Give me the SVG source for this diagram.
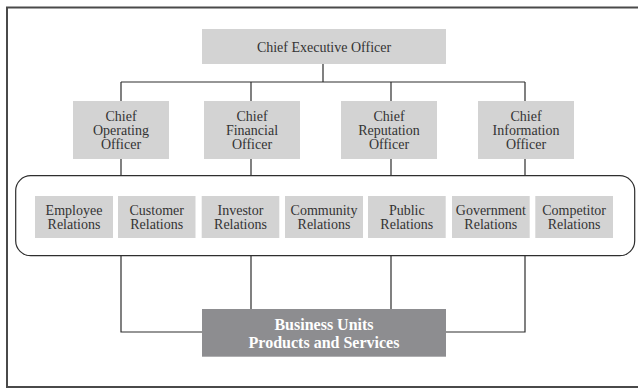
<svg xmlns="http://www.w3.org/2000/svg" width="638" height="388" viewBox="0 0 638 388">
<style>
.lt{fill:#d3d3d3}
.dk{fill:#8d8d90}
.t{font-family:"Liberation Serif","Times New Roman",serif;font-size:14px;fill:#333;text-anchor:middle}
.tb{font-family:"Liberation Serif","Times New Roman",serif;font-size:16px;font-weight:bold;fill:#fff;text-anchor:middle}
.ln{stroke:#2e2e2e;stroke-width:1.2;fill:none}
</style>
<rect x="7" y="7.5" width="640" height="379.5" fill="#fff" stroke="#4a4a4a" stroke-width="2"/>
<g id="connectors" class="ln">
<path d="M323 64V82M121 82H525M121 82V101M251 82V101M391 82V101M525 82V101"/>
<path d="M121 159V176M251 159V176M391 159V176M525 159V176"/>
<path d="M121 256V332H202M251 256V309M391 256V309M525 256V332H446"/>
</g>
<g id="group">
<rect x="15.7" y="175.7" width="619" height="80" rx="15" ry="15" fill="none" stroke="#2e2e2e" stroke-width="1.2"/>
</g>
<g id="ceo"><rect class="lt" x="202" y="29" width="244" height="35"/><text class="t" x="324" y="52">Chief Executive Officer</text></g>
<g id="coo"><rect class="lt" x="73" y="101" width="96" height="58"/><text class="t" x="121" y="121">Chief</text><text class="t" x="121" y="135">Operating</text><text class="t" x="121" y="149">Officer</text></g>
<g id="cfo"><rect class="lt" x="204" y="101" width="96" height="58"/><text class="t" x="252" y="121">Chief</text><text class="t" x="252" y="135">Financial</text><text class="t" x="252" y="149">Officer</text></g>
<g id="cro"><rect class="lt" x="341" y="101" width="96" height="58"/><text class="t" x="389" y="121">Chief</text><text class="t" x="389" y="135">Reputation</text><text class="t" x="389" y="149">Officer</text></g>
<g id="cio"><rect class="lt" x="478" y="101" width="96" height="58"/><text class="t" x="526" y="121">Chief</text><text class="t" x="526" y="135">Information</text><text class="t" x="526" y="149">Officer</text></g>
<g id="employee"><rect class="lt" x="35" y="196" width="78" height="42"/><text class="t" x="74" y="215">Employee</text><text class="t" x="74" y="228.5">Relations</text></g>
<g id="customer"><rect class="lt" x="118" y="196" width="77.5" height="42"/><text class="t" x="156.7" y="215">Customer</text><text class="t" x="156.7" y="228.5">Relations</text></g>
<g id="investor"><rect class="lt" x="201.7" y="196" width="77.6" height="42"/><text class="t" x="240.5" y="215">Investor</text><text class="t" x="240.5" y="228.5">Relations</text></g>
<g id="community"><rect class="lt" x="285" y="196" width="78" height="42"/><text class="t" x="324" y="215">Community</text><text class="t" x="324" y="228.5">Relations</text></g>
<g id="public"><rect class="lt" x="368" y="196" width="77.7" height="42"/><text class="t" x="406.8" y="215">Public</text><text class="t" x="406.8" y="228.5">Relations</text></g>
<g id="government"><rect class="lt" x="452" y="196" width="77.7" height="42"/><text class="t" x="490.8" y="215">Government</text><text class="t" x="490.8" y="228.5">Relations</text></g>
<g id="competitor"><rect class="lt" x="535.3" y="196" width="77.7" height="42"/><text class="t" x="574.1" y="215">Competitor</text><text class="t" x="574.1" y="228.5">Relations</text></g>
<g id="business"><rect class="dk" x="202" y="309" width="244" height="47.7"/><text class="tb" x="324" y="330">Business Units</text><text class="tb" x="324" y="347.5">Products and Services</text></g>
</svg>
